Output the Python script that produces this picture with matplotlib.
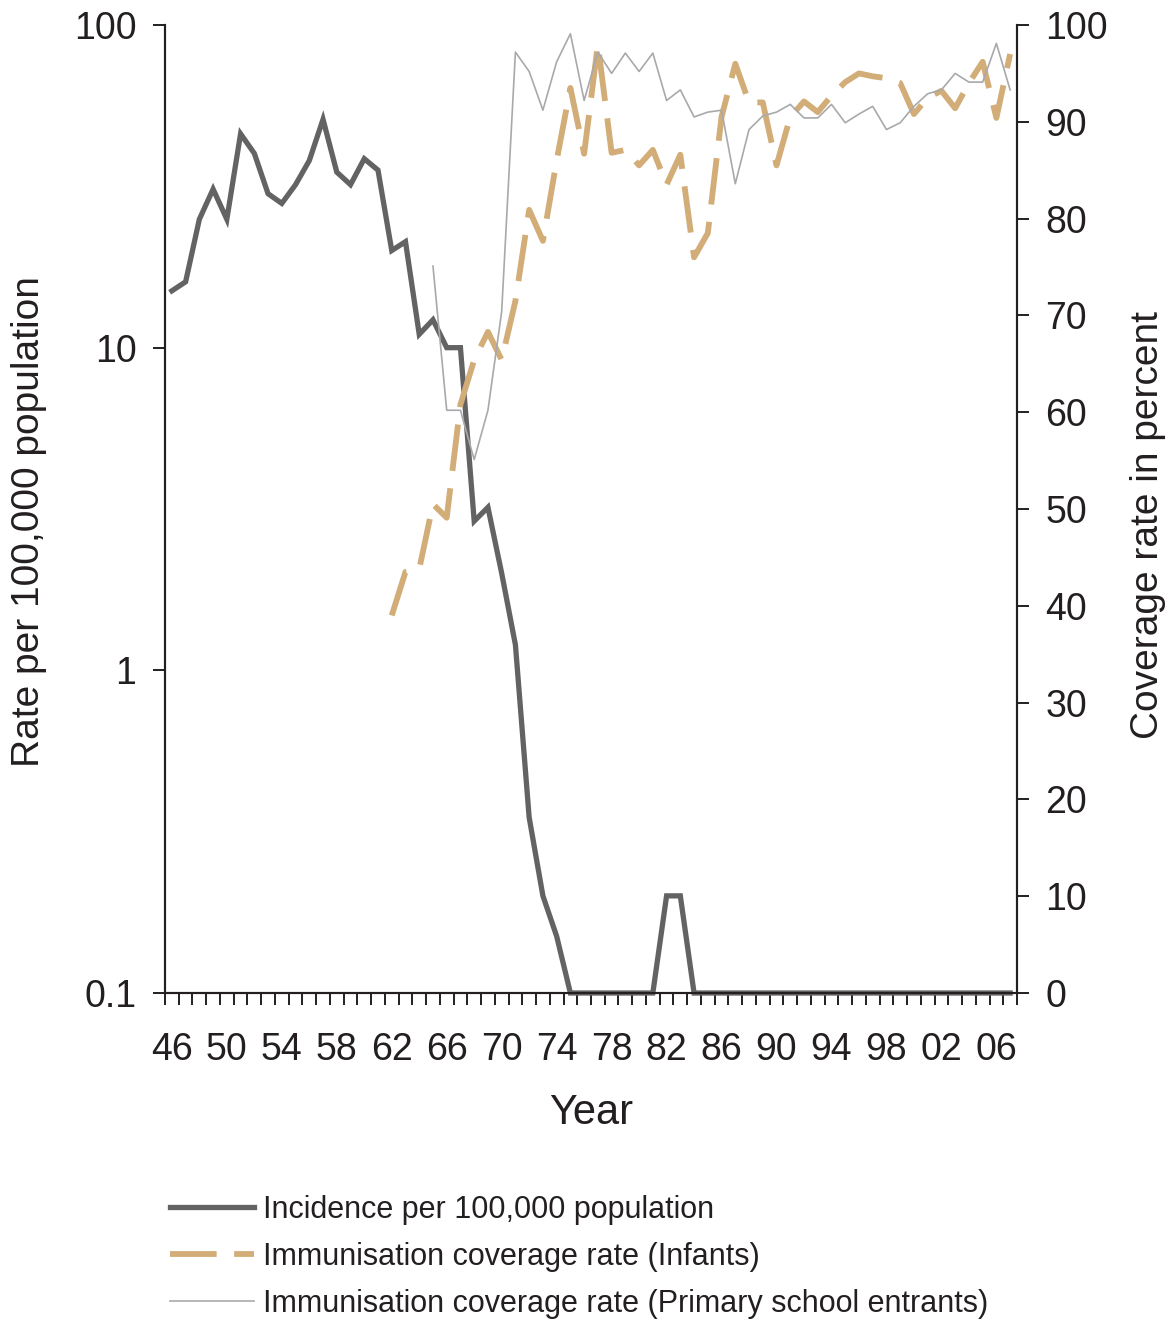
import numpy as np
import matplotlib
matplotlib.use('Agg')
import matplotlib.pyplot as plt
from matplotlib.ticker import FixedLocator, NullLocator, FixedFormatter

plt.rcParams['font.family'] = ['Liberation Sans', 'DejaVu Sans']

TXT = '#231F20'

years = list(range(1946, 2008))

# incidence per 100,000 (log axis, 0.1 = none recorded)
incidence = [15, 16, 25, 31, 25, 46, 40, 30, 28, 32,
             38, 51, 35, 32, 38.5, 35.5, 20, 21.3, 11, 12.2,
             10, 10, 2.9, 3.2, 2.0, 1.2, 0.35, 0.2, 0.15,
             0.1, 0.1, 0.1, 0.1, 0.1, 0.1, 0.1,
             0.2, 0.2] + [0.1] * 24

# infant coverage, 1962-2007
infant_years = list(range(1962, 2008))
infant = [39, 43.5, 43.8, 50.5, 49.1, 60.8, 65.4, 68.3, 65.4, 71.5,
          80.9, 77.7, 86, 93.5, 86.7, 98, 86.8, 87.1, 85.5, 87.1,
          83.5, 86.6, 76, 78.5, 90.5, 96, 92, 92, 85.5, 90.5,
          92.1, 91, 92.7, 94.1, 95, 94.7, 94.5, 94, 90.8, 92.5,
          93.2, 91.4, 94, 96.2, 90.4, 97]

# primary school entrants coverage, 1965-2007
school_years = list(range(1965, 2008))
school = [75.1, 60.2, 60.2, 55.1, 60.2, 70.4, 97.2, 95.2, 91.2, 96.2,
          99.1, 92.2, 97.2, 95.0, 97.1, 95.2, 97.1, 92.2, 93.3, 90.5,
          91.0, 91.2, 83.6, 89.2, 90.6, 91.0, 91.8, 90.4, 90.4, 91.8,
          89.9, 90.8, 91.6, 89.2, 89.9, 91.6, 92.9, 93.3, 95.0, 94.1,
          94.1, 98.1, 93.3]

label_years = list(range(1946, 2007, 4))
label_text = ['%02d' % (y % 100) for y in label_years]

fig = plt.figure(figsize=(11.73, 13.21), dpi=100)
ax = fig.add_axes([165 / 1173, 328 / 1321, 852 / 1173, 968 / 1321])
ax2 = ax.twinx()

l1, = ax.plot(years, incidence, color='#636363', lw=3.8, solid_joinstyle='miter',
              clip_on=False, zorder=3)
l2, = ax2.plot(infant_years, infant, color='#D2AD78', lw=4.2, dashes=(8, 3),
               dash_capstyle='butt', zorder=3)
l3, = ax2.plot(school_years, school, color='#A7A9AC', lw=1.2, zorder=4)

ax.set_yscale('log')
ax.set_ylim(0.1, 100)
ax.set_xlim(1945.5, 2007.5)
ax.yaxis.set_major_locator(FixedLocator([0.1, 1, 10, 100]))
ax.yaxis.set_major_formatter(FixedFormatter(['0.1', '1', '10', '100']))
ax.yaxis.set_minor_locator(NullLocator())

ax.set_xticks(label_years)
ax.set_xticklabels(label_text)
ax.xaxis.set_minor_locator(FixedLocator(np.arange(1945.5, 2008, 1)))

ax2.set_ylim(0, 100)
ax2.set_yticks(range(0, 101, 10))

for a in (ax, ax2):
    a.spines['top'].set_visible(False)
    for s in a.spines.values():
        s.set_linewidth(1.5)
        s.set_color(TXT)

ax.tick_params(axis='x', which='major', length=0, pad=28, labelsize=27, labelcolor=TXT)
ax.tick_params(axis='x', which='minor', length=8.6, width=1.4, color=TXT, direction='out')
ax.tick_params(axis='y', length=8.6, width=1.4, color=TXT, pad=12, labelsize=27,
               labelcolor=TXT)
ax2.tick_params(axis='y', length=8.6, width=1.4, color=TXT, pad=12, labelsize=27,
                labelcolor=TXT)

ax.set_xlabel('Year', fontsize=30, color=TXT, labelpad=18)
ax.set_ylabel('Rate per 100,000 population', fontsize=28, color=TXT)
ax2.set_ylabel('Coverage rate in percent', fontsize=28, color=TXT)
ax.yaxis.set_label_coords(-0.139, 0.487)
ax2.yaxis.set_label_coords(1.133, 0.483)

fig.legend([l1, l2, l3],
           ['Incidence per 100,000 population',
            'Immunisation coverage rate (Infants)',
            'Immunisation coverage rate (Primary school entrants)'],
           loc='upper left', bbox_to_anchor=(170 / 1173, 1 - 1195 / 1321),
           frameon=False, borderpad=0, borderaxespad=0, handlelength=2.75,
           handletextpad=0.3, labelspacing=0.55,
           prop={'family': ['Liberation Sans Narrow', 'Liberation Sans'], 'size': 22})
for t in fig.legends[0].get_texts():
    t.set_color(TXT)

fig.savefig('out.png', dpi=100)
